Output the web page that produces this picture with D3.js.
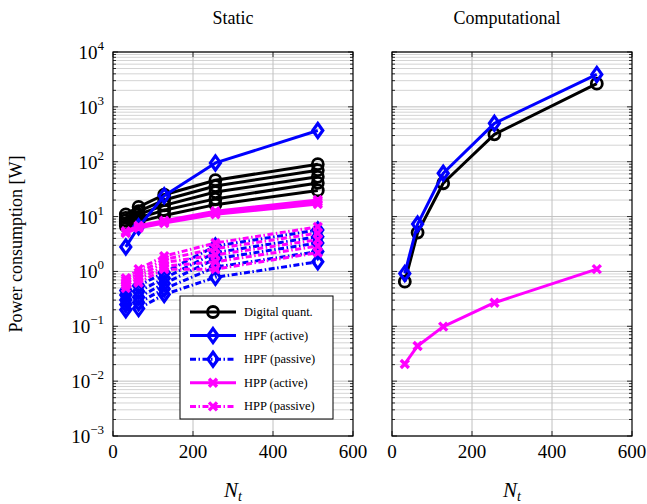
<!DOCTYPE html>
<html><head><meta charset="utf-8">
<script src="https://cdn.jsdelivr.net/npm/d3@7"></script>
<style>body{margin:0;background:#fff}svg{display:block}text{font-family:"Liberation Serif","Times New Roman","DejaVu Serif",serif}</style>
</head><body>
<svg id="c" width="647" height="504"></svg>
<script>
// ---------- data ----------
const nt = [32, 64, 128, 256, 512];
const xTicks = [0, 200, 400, 600];
const yExps = [-3, -2, -1, 0, 1, 2, 3, 4];
const panelTitles = ["Static", "Computational"];
const legendLabels = ["Digital quant.", "HPF (active)", "HPF (passive)", "HPP (active)", "HPP (passive)"];

// Static panel
const digitalStatic = [
  [11, 15, 25, 46, 90],
  [9.5, 12.5, 20, 36, 70],
  [8.5, 11, 16, 28, 53],
  [7.5, 9.5, 13, 21, 41],
  [6.7, 8, 10.5, 16.5, 30]
];
const hpfActiveStatic = [[2.8, 6.5, 24, 95, 370]];
const hpfPassiveStatic = [
  [0.45, 0.55, 0.95, 2.9, 5.7],
  [0.37, 0.43, 0.75, 2.2, 4.3],
  [0.30, 0.34, 0.60, 1.7, 3.3],
  [0.25, 0.27, 0.48, 1.2, 2.3],
  [0.20, 0.21, 0.38, 0.78, 1.5]
];
const hppActiveStatic = [
  [5.0, 6.2, 7.6, 11.0, 17],
  [5.2, 6.5, 8.0, 11.8, 18.5],
  [5.4, 6.8, 8.4, 12.5, 20]
];
const hppPassiveStatic = [
  [0.75, 1.1, 1.9, 3.3, 6.5],
  [0.68, 0.95, 1.65, 2.6, 5.0],
  [0.62, 0.82, 1.45, 2.0, 3.8],
  [0.56, 0.72, 1.25, 1.5, 2.9],
  [0.50, 0.62, 1.1, 1.1, 2.2]
];
// Computational panel
const digitalComp = [[0.65, 5.1, 40.5, 316, 2650]];
const hpfComp = [[0.92, 7.3, 61.5, 500, 3900]];
const hppComp = [[0.0206, 0.0438, 0.0984, 0.269, 1.1]];

// ---------- styles ----------
const styles = {
  digital: {color: "#000", marker: "circle", dash: null},
  hpfA: {color: "#0000ff", marker: "diamond", dash: null},
  hpfP: {color: "#0000ff", marker: "diamond", dash: "6,2.5,1.5,2.5"},
  hppA: {color: "#ff00ff", marker: "cross", dash: null},
  hppP: {color: "#ff00ff", marker: "cross", dash: "6,2.5,1.5,2.5"}
};

const svg = d3.select("#c");
const yTop = 52, yBot = 436;
const panels = [
  {left: 113, right: 353, title: panelTitles[0], yLabels: true,
   series: [["digital", digitalStatic], ["hpfA", hpfActiveStatic], ["hpfP", hpfPassiveStatic], ["hppA", hppActiveStatic], ["hppP", hppPassiveStatic]]},
  {left: 392, right: 632, title: panelTitles[1], yLabels: false,
   series: [["digital", digitalComp], ["hpfA", hpfComp], ["hppA", hppComp]]}
];

function drawMarker(g, type, x, y, color) {
  if (type === "circle") {
    g.append("circle").attr("cx", x).attr("cy", y).attr("r", 5.5)
      .attr("fill", "none").attr("stroke", color).attr("stroke-width", 2.8);
  } else if (type === "diamond") {
    g.append("path").attr("d", `M${x},${y-7}L${x+5},${y}L${x},${y+7}L${x-5},${y}Z`)
      .attr("fill", "none").attr("stroke", color).attr("stroke-width", 3.2);
  } else {
    const s = 4;
    g.append("path").attr("d", `M${x-s},${y-s}L${x+s},${y+s}M${x-s},${y+s}L${x+s},${y-s}`)
      .attr("stroke", color).attr("stroke-width", 3.4).attr("fill", "none");
  }
}

const y = d3.scaleLog().domain([1e-3, 1e4]).range([yBot, yTop]);

panels.forEach((p, pi) => {
  const x = d3.scaleLinear().domain([0, 600]).range([p.left, p.right]);
  const g = svg.append("g");
  const minors = [];
  yExps.slice(0, -1).forEach(e => { for (let k = 2; k <= 9; k++) minors.push(k * Math.pow(10, e)); });
  g.selectAll(null).data(minors).enter().append("line")
    .attr("x1", p.left).attr("x2", p.right).attr("y1", d => y(d)).attr("y2", d => y(d))
    .attr("stroke", "#d4d4d4").attr("stroke-width", 1);
  g.selectAll(null).data(yExps.map(e => Math.pow(10, e))).enter().append("line")
    .attr("x1", p.left).attr("x2", p.right).attr("y1", d => y(d)).attr("y2", d => y(d))
    .attr("stroke", "#c0c0c0").attr("stroke-width", 1);
  g.selectAll(null).data(xTicks.slice(1, -1)).enter().append("line")
    .attr("x1", d => x(d)).attr("x2", d => x(d)).attr("y1", yTop).attr("y2", yBot)
    .attr("stroke", "#c0c0c0").attr("stroke-width", 1);
  const tk = g.append("g").attr("stroke", "#000").attr("stroke-width", 0.8);
  minors.forEach(v => {
    tk.append("line").attr("x1", p.left).attr("x2", p.left + 3).attr("y1", y(v)).attr("y2", y(v));
    tk.append("line").attr("x1", p.right - 3).attr("x2", p.right).attr("y1", y(v)).attr("y2", y(v));
  });
  yExps.forEach(e => {
    const v = Math.pow(10, e);
    tk.append("line").attr("x1", p.left).attr("x2", p.left + 5).attr("y1", y(v)).attr("y2", y(v));
    tk.append("line").attr("x1", p.right - 5).attr("x2", p.right).attr("y1", y(v)).attr("y2", y(v));
  });
  xTicks.forEach(t => {
    tk.append("line").attr("x1", x(t)).attr("x2", x(t)).attr("y1", yBot).attr("y2", yBot - 5);
    tk.append("line").attr("x1", x(t)).attr("x2", x(t)).attr("y1", yTop).attr("y2", yTop + 5);
  });

  const cid = "clip" + pi;
  svg.append("clipPath").attr("id", cid).append("rect")
    .attr("x", p.left).attr("y", yTop).attr("width", p.right - p.left).attr("height", yBot - yTop);
  const data = g.append("g").attr("clip-path", `url(#${cid})`);
  const line = d3.line().x((d, i) => x(nt[i])).y(d => y(d));
  p.series.forEach(([key, arr]) => {
    const st = styles[key];
    arr.forEach(vals => {
      const sg = data.append("g");
      sg.append("path").attr("d", line(vals)).attr("fill", "none")
        .attr("stroke", st.color).attr("stroke-width", 3)
        .attr("stroke-dasharray", st.dash).attr("stroke-linejoin", "round");
      vals.forEach((v, i) => drawMarker(sg, st.marker, x(nt[i]), y(v), st.color));
    });
  });

  g.append("rect").attr("x", p.left).attr("y", yTop).attr("width", p.right - p.left).attr("height", yBot - yTop)
    .attr("fill", "none").attr("stroke", "#000").attr("stroke-width", 1.2);

  g.selectAll(null).data(xTicks).enter().append("text")
    .attr("x", d => x(d)).attr("y", 458).attr("text-anchor", "middle")
    .style("font-size", "19px").text(d => d);
  const xl = g.append("text").attr("x", (p.left + p.right) / 2).attr("y", 497).attr("text-anchor", "middle")
    .style("font-size", "21px").style("font-style", "italic");
  xl.append("tspan").text("N");
  xl.append("tspan").style("font-size", "14px").attr("dy", 4).text("t");
  g.append("text").attr("x", (p.left + p.right) / 2 - (pi === 0 ? 0 : 5)).attr("y", 24).attr("text-anchor", "middle")
    .style("font-size", "18px").text(p.title);

  if (p.yLabels) {
    yExps.forEach(e => {
      const t = g.append("text").attr("x", 104).attr("y", y(Math.pow(10, e)) + 7).attr("text-anchor", "end")
        .style("font-size", "19px");
      t.append("tspan").text("10");
      t.append("tspan").style("font-size", "13px").attr("dy", -9).text(e < 0 ? "\u2212" + (-e) : e);
    });
  }
});

svg.append("text").attr("transform", `translate(22,${(yTop + yBot) / 2}) rotate(-90)`)
  .attr("text-anchor", "middle").style("font-size", "18px")
  .text("Power consumption [W]");

const lg = svg.append("g");
lg.append("rect").attr("x", 180).attr("y", 296).attr("width", 153).attr("height", 123)
  .attr("fill", "#fff").attr("stroke", "#000").attr("stroke-width", 1);
const legKeys = ["digital", "hpfA", "hpfP", "hppA", "hppP"];
legKeys.forEach((k, i) => {
  const st = styles[k];
  const ly = 312 + i * 23.6;
  lg.append("line").attr("x1", 190).attr("x2", 236).attr("y1", ly).attr("y2", ly)
    .attr("stroke", st.color).attr("stroke-width", 3).attr("stroke-dasharray", st.dash);
  drawMarker(lg, st.marker, 213, ly, st.color);
  lg.append("text").attr("x", 244).attr("y", ly + 4).style("font-size", "12.5px")
    .text(legendLabels[i]);
});
</script>
</body></html>
